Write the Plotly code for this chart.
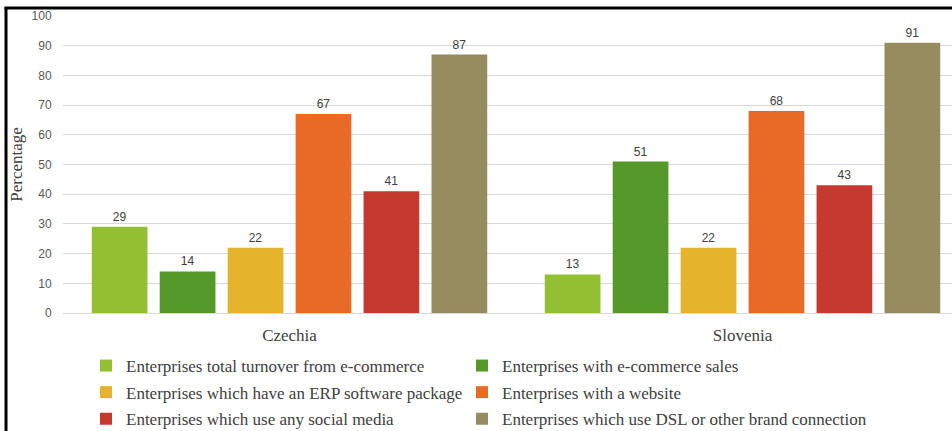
import plotly.graph_objects as go

categories = ["Czechia", "Slovenia"]
series_names = [
    "Enterprises total turnover from e-commerce",
    "Enterprises with e-commerce sales",
    "Enterprises which have an ERP software package",
    "Enterprises with a website",
    "Enterprises which use any social media",
    "Enterprises which use DSL or other brand connection",
]
turnover = [29, 13]
ecommerce_sales = [14, 51]
erp = [22, 22]
website = [67, 68]
social_media = [41, 43]
dsl = [87, 91]
series_values = [turnover, ecommerce_sales, erp, website, social_media, dsl]
colors = ["#93c032", "#56992b", "#e6b42c", "#e96a27", "#c6392f", "#968c60"]

SERIF = "Liberation Serif, Times New Roman, serif"
SANS = "Liberation Sans, Arial, sans-serif"

W, H = 952, 431
L, R, T, B = 63, 0, 16, 118
pw, ph = W - L - R, H - T - B

fig = go.Figure()
for i, (name, vals, col) in enumerate(zip(series_names, series_values, colors)):
    fig.add_trace(go.Bar(
        x=categories, y=vals, name=name,
        marker=dict(color=col, line=dict(width=0)),
        text=[str(v) for v in vals], textposition="outside",
        textfont=dict(family=SANS, size=12, color="#404040"),
        cliponaxis=False,
        legend="legend" if i % 2 == 0 else "legend2",
        legendgroup=f"g{i}",
    ))

def px_x(p):
    return (p - L) / pw

def px_y(p):
    return (H - B - p) / ph

legend_common = dict(
    orientation="v", yanchor="top", xanchor="left",
    font=dict(family=SERIF, size=17, color="#404040"),
    traceorder="grouped", tracegroupgap=1.5,
    bgcolor="rgba(0,0,0,0)",
)

fig.update_layout(
    width=W, height=H,
    margin=dict(l=L, r=R, t=T, b=B, autoexpand=False),
    paper_bgcolor="white", plot_bgcolor="white",
    barmode="group", bargap=0.1, bargroupgap=0.18,
    showlegend=True,
    legend=dict(x=px_x(86), y=px_y(348), **legend_common),
    legend2=dict(x=px_x(462), y=px_y(348), **legend_common),
    xaxis=dict(
        type="category", range=[-0.5, 1.4625],
        showline=True, linecolor="#d9d9d9", linewidth=1,
        showgrid=False, ticks="outside", ticklen=7, tickcolor="rgba(0,0,0,0)",
        tickfont=dict(family=SERIF, size=17, color="#404040"),
    ),
    yaxis=dict(
        range=[0, 100], dtick=10,
        showgrid=True, gridcolor="#d9d9d9", gridwidth=1,
        zeroline=False, showline=False,
        ticks="outside", ticklen=8, tickcolor="rgba(0,0,0,0)",
        tickfont=dict(family=SANS, size=12, color="#595959"),
        title=dict(text="Percentage", standoff=4,
                   font=dict(family=SERIF, size=17, color="#404040")),
    ),
    shapes=[
        dict(type="line", xref="paper", yref="paper",
             x0=px_x(6), x1=px_x(6), y0=px_y(H + 5), y1=px_y(7.5),
             line=dict(color="black", width=3)),
        dict(type="line", xref="paper", yref="paper",
             x0=px_x(4.5), x1=1.0, y0=px_y(8), y1=px_y(8),
             line=dict(color="black", width=3)),
    ],
)

fig.write_html("out.html")
